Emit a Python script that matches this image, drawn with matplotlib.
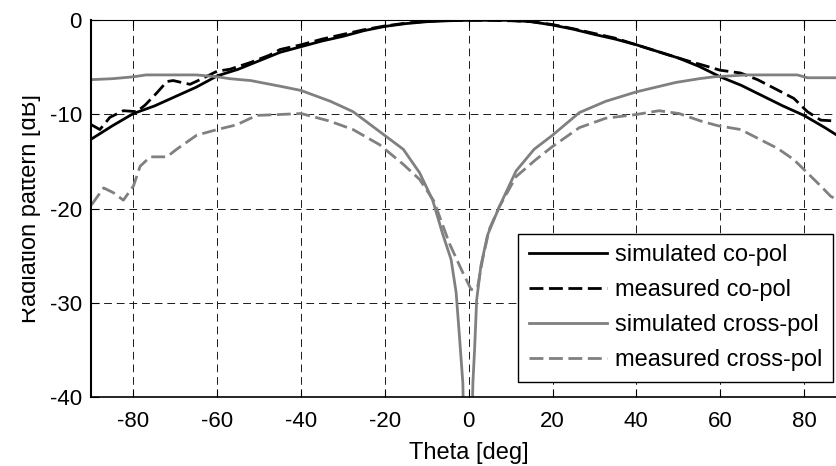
import matplotlib
matplotlib.use("Agg")
import matplotlib.pyplot as plt
from matplotlib.transforms import Bbox, TransformedBbox

plt.rcParams['font.family'] = ['Liberation Sans', 'DejaVu Sans']
plt.rcParams['axes.unicode_minus'] = False

# simulated co-pol
theta_sim_co = [-90, -85, -80, -75, -70, -65, -60, -55, -50, -45, -40, -35, -30, -25,
                -20, -15, -10, -5, 0, 5, 10, 15, 20, 25, 30, 35, 40, 45, 50, 55,
                60, 65, 70, 75, 80, 85, 90]
sim_co = [-12.6, -11.2, -9.9, -9.1, -8.1, -7.1, -5.9, -5.2, -4.3, -3.4, -2.8, -2.2,
          -1.7, -1.1, -0.65, -0.35, -0.15, -0.05, 0.0, 0.0, 0.0, -0.15, -0.5, -0.95,
          -1.5, -2.0, -2.6, -3.3, -4.0, -4.9, -6.0, -6.9, -8.0, -9.1, -10.1, -11.4, -12.8]

# measured co-pol
theta_meas_co = [-90, -88, -85.6, -82.4, -79.2, -77.2, -74.4, -72, -70.5, -66.5, -64.1,
                 -60, -57, -52.2, -47.5, -45, -40, -35, -30, -25, -20, -15, -10, -5,
                 0, 5, 10, 15, 20, 25, 30, 35, 40, 45, 50, 53, 55.4, 60, 64.9, 68.9,
                 73.7, 77.6, 80.8, 84, 87.8, 90]
meas_co = [-11.1, -11.6, -10.3, -9.6, -9.7, -9.0, -7.7, -6.5, -6.4, -6.8, -6.3,
           -5.4, -5.2, -4.5, -3.7, -3.1, -2.6, -2.0, -1.5, -1.0, -0.6, -0.3, -0.1, 0.0,
           0.0, 0.0, -0.05, -0.15, -0.45, -0.9, -1.4, -1.9, -2.6, -3.3, -4.0, -4.4,
           -4.7, -5.3, -5.6, -6.3, -7.4, -8.3, -9.7, -10.6, -10.7, -10.8]

# simulated cross-pol
theta_sim_x = [-90, -85, -80, -77, -70, -65, -60, -57, -52, -45, -40, -33, -27.6, -21.3,
               -15.6, -11.7, -8.6, -6.2, -4.2, -3.0, -2.2, -1.4, -1.1, 0.7, 1.0, 1.4,
               1.9, 2.9, 4.5, 7.3, 11.3, 15.6, 20, 26.4, 32.7, 40, 49.4, 55, 58.5,
               66.5, 78.4, 80.8, 90]
sim_x = [-6.3, -6.2, -6.0, -5.8, -5.8, -5.8, -6.0, -6.2, -6.4, -7.0, -7.45, -8.6,
         -9.7, -11.8, -13.7, -16.2, -19.1, -22.7, -25.4, -28.9, -33.6, -38.5, -45.0,
         -45.0, -38.5, -35.0, -29.7, -26.1, -22.8, -19.8, -16.0, -13.7, -12.2, -9.8,
         -8.6, -7.6, -6.6, -6.2, -6.0, -5.8, -5.8, -6.1, -6.1]

# measured cross-pol
theta_meas_x = [-90, -87.1, -84.8, -82.4, -80, -78.4, -76, -72, -69.7, -64.9, -60, -55.4,
                -50.6, -45, -40, -33.2, -27.6, -21.3, -15.6, -11.7, -8.3, -4.6, -1.4,
                0.6, 2.1, 3.3, 4.9, 7.3, 11.3, 16, 20, 26.4, 32.7, 40, 45.4, 50.2,
                55.4, 59.5, 64.9, 69.7, 73.7, 77.6, 80.8, 84, 86.4, 87.8, 90]
meas_x = [-19.6, -17.8, -18.3, -19.1, -17.6, -15.5, -14.5, -14.5, -13.7, -12.2, -11.6,
          -11.1, -10.1, -10.0, -9.9, -10.7, -11.6, -13.2, -15.3, -16.9, -19.2, -23.7,
          -26.8, -28.6, -28.4, -25.4, -22.2, -19.8, -16.6, -14.8, -13.4, -11.4, -10.4,
          -10.0, -9.6, -9.9, -10.7, -11.2, -11.6, -12.7, -13.6, -14.8, -16.2, -17.6,
          -18.7, -19.0, -19.2]

W, H = 837, 466
fig = plt.figure(figsize=(W / 100, H / 100), dpi=100)
ax = fig.add_axes([91.5 / W, 69 / H, 754.4 / W, 376.7 / H])

gray = '#808080'
dash = (0, (5, 2))
lw = 2.0
ax.plot(theta_sim_co, sim_co, color='black', lw=lw, label='simulated co-pol')
ax.plot(theta_meas_co, meas_co, color='black', lw=lw, ls=dash, label='measured co-pol')
ax.plot(theta_sim_x, sim_x, color=gray, lw=lw, label='simulated cross-pol')
ax.plot(theta_meas_x, meas_x, color=gray, lw=lw, ls=dash, label='measured cross-pol')

ax.set_xlim(-90, 90)
ax.set_ylim(-40, 0)
ax.set_xticks(range(-80, 81, 20))
ax.set_yticks(range(-40, 1, 10))
ax.grid(True, color='0.1', lw=0.7, ls=(0, (8, 5)))
ax.set_axisbelow(True)
ax.tick_params(direction='in', length=6, width=0.8, labelsize=16, pad=7,
               top=True, right=True)
ax.tick_params(axis='x', pad=10)
ax.spines['left'].set_linewidth(1.5)
ax.spines['bottom'].set_linewidth(1.2)
ax.spines['top'].set_linewidth(0.8)

ax.set_xlabel('Theta [deg]', fontsize=17, labelpad=7)

# y label, clipped on its left side
ylab = fig.text(36 / W, 1 - 208.5 / H, 'Radiation pattern [dB]', fontsize=17,
                rotation=90, rotation_mode='anchor', ha='center', va='baseline')
ylab.set_clip_box(TransformedBbox(Bbox.from_extents(22 / W, 0, 1, 1), fig.transFigure))
ylab.set_clip_on(True)

leg = ax.legend(loc='lower right', bbox_to_anchor=(833 / W, 84 / H),
                bbox_transform=fig.transFigure, borderaxespad=0, fontsize=17,
                fancybox=False, framealpha=1, edgecolor='black', handlelength=3.3,
                handletextpad=0.35, labelspacing=0.55, borderpad=0.45)
leg.get_frame().set_linewidth(1.0)

fig.savefig('out.png', dpi=100)
